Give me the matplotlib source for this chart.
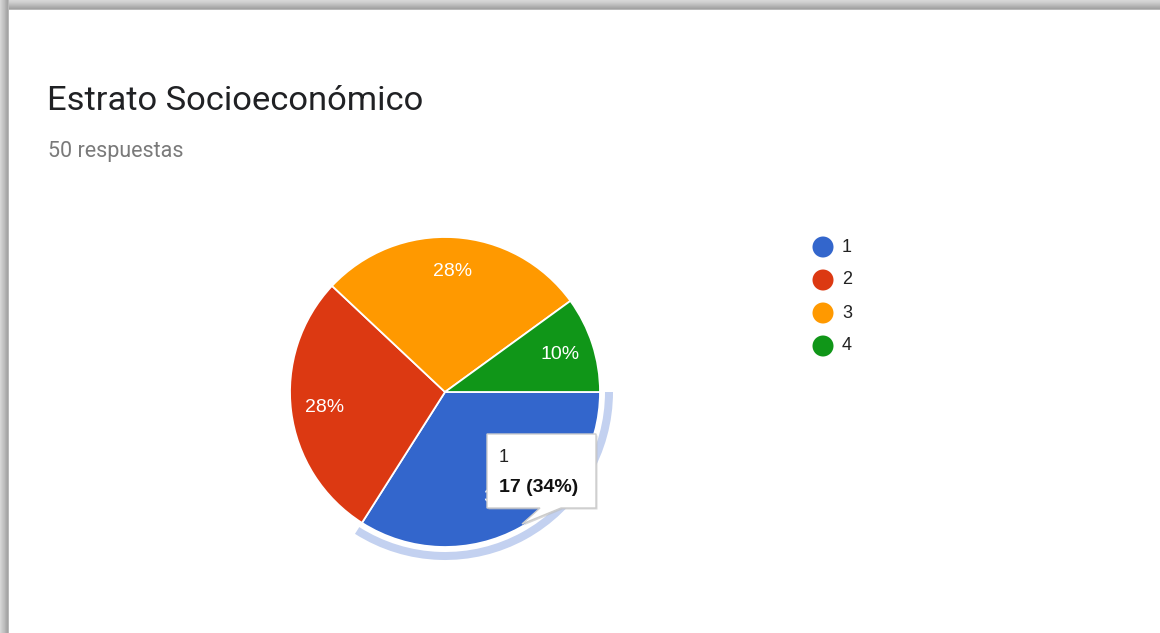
import matplotlib
matplotlib.use("Agg")
import matplotlib.pyplot as plt
from matplotlib.patches import Wedge, Polygon, Rectangle, Circle
import numpy as np

# ---- data ----
categories = ["1", "2", "3", "4"]
counts = [17, 14, 14, 5]
colors = ["#3366cc", "#dc3912", "#ff9900", "#109618"]
title = "Estrato Socioeconómico"
subtitle = "50 respuestas"
highlight_index = 0

W, H = 1160, 633
fig = plt.figure(figsize=(W / 100, H / 100), dpi=100)
fig.patch.set_facecolor("white")

# overlay axes in pixel coordinates (y downward)
ov = fig.add_axes([0, 0, 1, 1], zorder=0)
ov.set_xlim(0, W)
ov.set_ylim(H, 0)
ov.axis("off")

# window frame shadow
top_grays = ["#d6d6d6", "#d2d2d2", "#cdcdcd", "#c6c6c6", "#bfbfbf", "#b8b8b8", "#b0b0b0", "#a9a9a9", "#a2a2a2", "#b8b8b8"]
for i, g in enumerate(top_grays):
    ov.add_patch(Rectangle((0, i), W, 1, color=g, lw=0))
left_grays = ["#d6d6d6", "#cfcfcf", "#c8c8c8", "#c2c2c2", "#bcbcbc", "#b2b2b2", "#aaaaaa", "#a4a4a4", "#b8b8b8"]
for i, g in enumerate(left_grays):
    ov.add_patch(Rectangle((i, 0), 1, H, color=g, lw=0))

# titles
ov.text(47, 101, title, fontsize=24.8, family=["Roboto", "DejaVu Sans"], color="#202124",
        va="center", ha="left")
ov.text(48, 152, subtitle, fontsize=15.5, family=["Roboto", "DejaVu Sans"], color="#7a7a7a",
        va="center", ha="left")

# pie axes, pixel-square box centered at (445, 392)
cx, cy, half = 445, 392, 190
pax = fig.add_axes([(cx - half) / W, (H - cy - half) / H, 2 * half / W, 2 * half / H], zorder=1)
pax.set_xlim(-half, half)
pax.set_ylim(-half, half)
pax.axis("off")

R = 155
total = sum(counts)
wedges, texts, autotexts = pax.pie(
    counts, colors=colors, startangle=0, counterclock=False, radius=R,
    center=(0, 0), autopct=lambda p: f"{p:.0f}%", pctdistance=0.78,
    wedgeprops=dict(edgecolor="white", linewidth=1.3),
    textprops=dict(color="white", fontsize=14, family=["Liberation Sans", "DejaVu Sans"]),
    frame=False)
pax.set_xlim(-half, half)
pax.set_ylim(-half, half)
pax.set_aspect("equal")

# highlight ring around hovered slice
t1 = wedges[highlight_index].theta1
t2 = wedges[highlight_index].theta2
pax.add_patch(Wedge((0, 0), R + 13, t1, t2, width=8, color="#c3d1f0", lw=0))

# tooltip (pixel coords, overlay on top)
tip = fig.add_axes([0, 0, 1, 1], zorder=3)
tip.set_xlim(0, W)
tip.set_ylim(H, 0)
tip.axis("off")
bx0, by0, bx1, by1 = 487, 434, 596, 508
shape = [(bx0, by0), (bx1, by0), (bx1, by1), (561, by1), (522, 524), (540, by1), (bx0, by1)]
shadow = [(x + 1.5, y + 1.5) for x, y in shape]
tip.add_patch(Polygon(shadow, closed=True, facecolor="#bdbdbd", edgecolor="none", alpha=0.6))
tip.add_patch(Polygon(shape, closed=True, facecolor="white", edgecolor="#cccccc", lw=1))
c = counts[highlight_index]
tip.text(499, 458, categories[highlight_index], fontsize=13, color="#222222",
         family=["Liberation Sans", "DejaVu Sans"], va="center", ha="left")
tip.text(499, 488, f"{c} ({100 * c / total:.0f}%)", fontsize=14, color="#111111",
         fontweight="bold", family=["Liberation Sans", "DejaVu Sans"], va="center", ha="left")

# legend
ly = [247, 280, 313, 346]
for lab, col, y in zip(categories, colors, ly):
    ov.add_patch(Circle((823, y), 10.5, color=col, lw=0))
    ov.text(842, y, lab, fontsize=13, color="#222222", family=["Liberation Sans", "DejaVu Sans"],
            va="center", ha="left")

fig.savefig("out.png", dpi=100, facecolor="white")
